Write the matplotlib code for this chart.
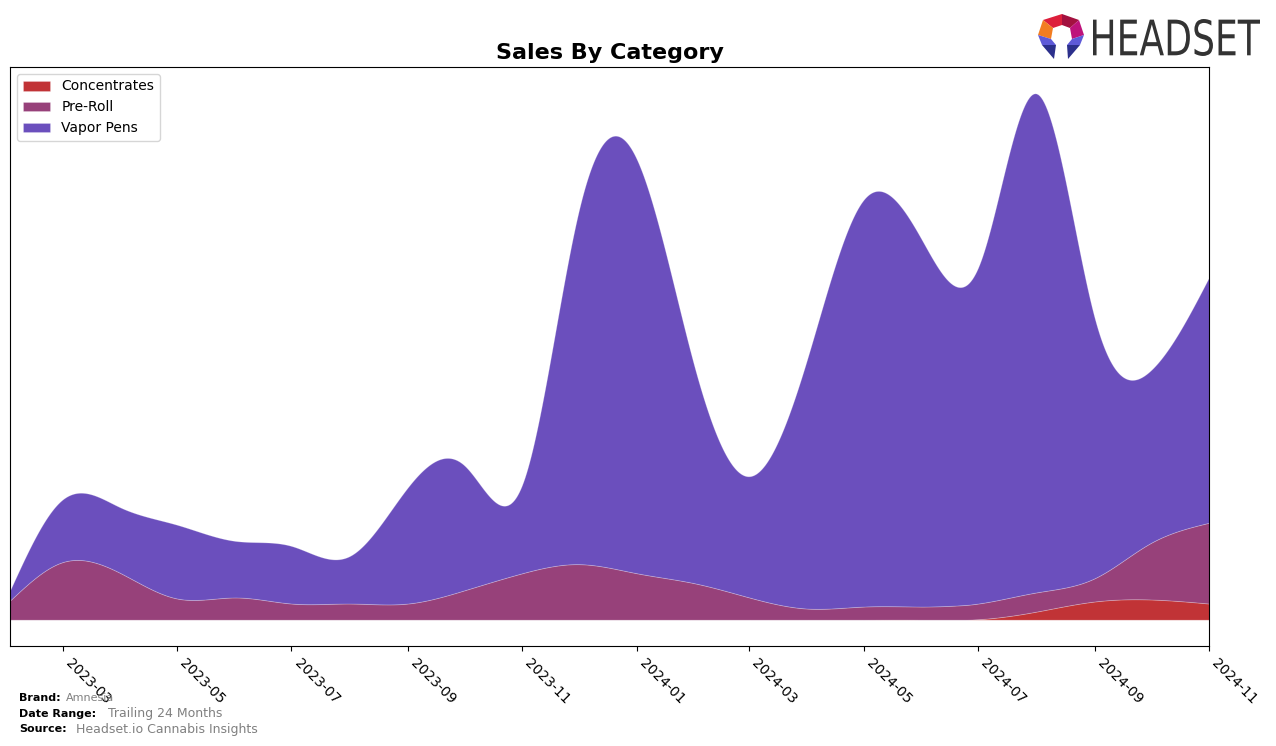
import numpy as np
import pandas as pd
import matplotlib
matplotlib.use("Agg")
import matplotlib.pyplot as plt
import matplotlib.dates as mdates
from matplotlib.patches import Polygon, PathPatch
from matplotlib.textpath import TextPath
from matplotlib.font_manager import FontProperties
from matplotlib.transforms import Affine2D

# monthly sales (arbitrary units)
months = pd.date_range("2023-02-01", "2024-11-01", freq="MS")
concentrates = [0, 0, 0, 0, 0, 0, 0, 0, 0, 0, 0,
                0, 0, 0, 0, 0, 0, 0.5, 8, 18, 20, 16]
pre_roll = [19, 57, 46, 21, 22, 16, 16, 16, 29, 46, 55,
            46, 36, 22, 11, 13, 13, 15.5, 19, 23, 56, 80]
vapor_pens = [10, 62, 65, 73, 56, 57, 47, 115, 124, 88, 349,
              410, 213, 120, 248, 403, 363, 333, 494, 258, 171, 243]

labels = ["Concentrates", "Pre-Roll", "Vapor Pens"]
colors = ["#C13336", "#97417A", "#6B4FBD"]


def spline(x, y, xs):
    # natural cubic spline
    x = np.asarray(x, float)
    y = np.asarray(y, float)
    n = len(x)
    h = np.diff(x)
    A = np.zeros((n, n))
    b = np.zeros(n)
    A[0, 0] = 1
    A[-1, -1] = 1
    for i in range(1, n - 1):
        A[i, i - 1] = h[i - 1]
        A[i, i] = 2 * (h[i - 1] + h[i])
        A[i, i + 1] = h[i]
        b[i] = 6 * ((y[i + 1] - y[i]) / h[i] - (y[i] - y[i - 1]) / h[i - 1])
    M = np.linalg.solve(A, b)
    idx = np.clip(np.searchsorted(x, xs) - 1, 0, n - 2)
    x0, x1 = x[idx], x[idx + 1]
    hh = x1 - x0
    t0, t1 = x1 - xs, xs - x0
    return (M[idx] * t0 ** 3 / (6 * hh) + M[idx + 1] * t1 ** 3 / (6 * hh)
            + (y[idx] / hh - M[idx] * hh / 6) * t0
            + (y[idx + 1] / hh - M[idx + 1] * hh / 6) * t1)


xn = mdates.date2num(months)
xs = np.linspace(xn[0], xn[-1], 800)
series = [np.clip(spline(xn, s, xs), 0, None) for s in (concentrates, pre_roll, vapor_pens)]
total_max = np.max(np.sum(series, axis=0))

fig = plt.figure(figsize=(12.76, 7.46), dpi=100)
ax = fig.add_axes([10 / 1276, 100 / 746, 1199 / 1276, 579 / 746])
ax.stackplot(mdates.num2date(xs), *series, labels=labels, colors=colors,
             linewidth=0.6, edgecolor="#ffffff40")
ax.set_xlim(mdates.num2date(xs[0]), mdates.num2date(xs[-1]))
ax.set_ylim(-0.05 * total_max, 1.05 * total_max)
ax.set_yticks([])
ax.xaxis.set_major_locator(mdates.MonthLocator(bymonth=[1, 3, 5, 7, 9, 11]))
ax.xaxis.set_major_formatter(mdates.DateFormatter("%Y-%m"))
for lab in ax.get_xticklabels():
    lab.set_rotation(-45)
    lab.set_ha("left")
    lab.set_fontsize(10)
ax.set_title("Sales By Category", fontsize=16, fontweight="bold")
ax.legend(loc="upper left", fontsize=10)

# footer
fig.text(19 / 1276, 1 - 698 / 746, "Brand:", fontsize=8, fontweight="bold", va="center")
fig.text(66 / 1276, 1 - 698 / 746, "Amnesia", fontsize=8, color="gray", va="center")
fig.text(19 / 1276, 1 - 714 / 746, "Date Range:", fontsize=8, fontweight="bold", va="center")
fig.text(108 / 1276, 1 - 714 / 746, "Trailing 24 Months", fontsize=9, color="gray", va="center")
fig.text(19 / 1276, 1 - 729 / 746, "Source:", fontsize=8, fontweight="bold", va="center")
fig.text(76 / 1276, 1 - 729 / 746, "Headset.io Cannabis Insights", fontsize=9, color="gray", va="center")

# logo, drawn in figure pixel space
lax = fig.add_axes([0, 0, 1, 1], zorder=5)
lax.set_xlim(0, 1276)
lax.set_ylim(746, 0)
lax.axis("off")
tp = TextPath((0, 0), "HEADSET", size=40, prop=FontProperties(family="DejaVu Sans"))
ext = tp.get_extents()
tr = (Affine2D().translate(-ext.x0, -ext.y0)
      .scale(167 / ext.width, -37 / ext.height).translate(1093, 56))
lax.add_patch(PathPatch(tr.transform_path(tp), color="#333333", lw=0))

ox, oy = 1034, 10
icon = [
    ([(28, 4), (9, 10), (19, 18), (28, 15)], "#DD1F3B"),
    ([(28, 4), (45, 10), (36, 18), (28, 15)], "#A3113F"),
    ([(9, 10), (4, 25), (17, 29), (19, 18)], "#F27D21"),
    ([(45, 10), (50, 25), (38, 29), (36, 18)], "#BE137B"),
    ([(4, 25), (8, 35), (22, 35), (17, 29)], "#5E5AD8"),
    ([(50, 25), (46, 35), (33, 35), (38, 29)], "#5E5AD8"),
    ([(8, 35), (20, 49), (22, 35)], "#2C308C"),
    ([(46, 35), (34, 49), (33, 35)], "#2C308C"),
]
for pts, c in icon:
    lax.add_patch(Polygon([(ox + px, oy + py) for px, py in pts], closed=True, color=c, lw=0))

fig.savefig("out.png", dpi=100)
